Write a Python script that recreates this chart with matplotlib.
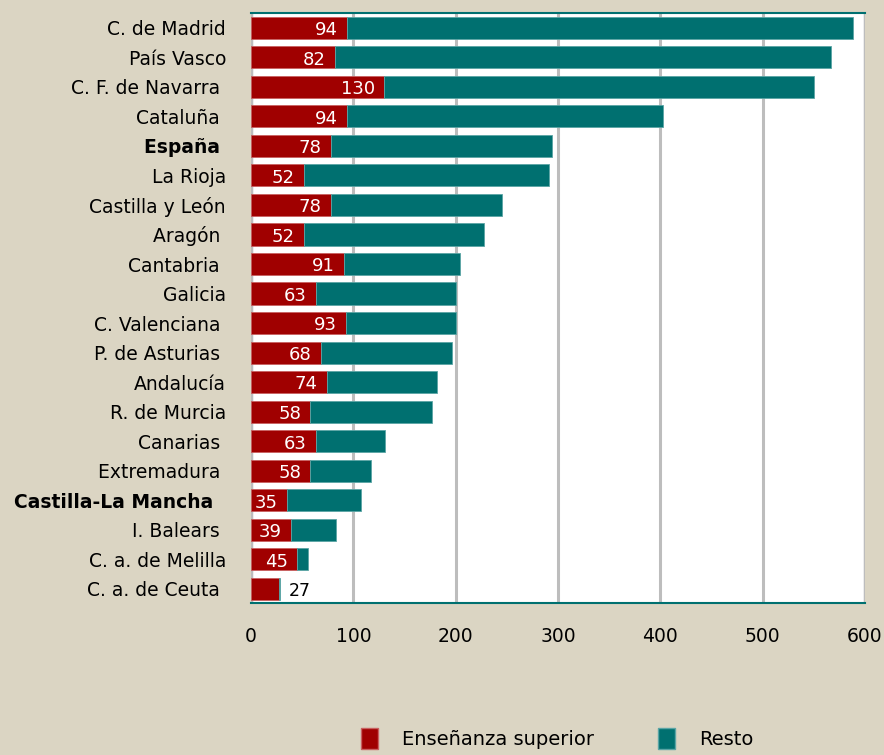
import matplotlib.pyplot as plt
from matplotlib.patches import Patch

regiones = ['C. de Madrid', 'País Vasco', 'C. F. de Navarra ', 'Cataluña ', 'España ',
            'La Rioja', 'Castilla y León', 'Aragón ', 'Cantabria ', 'Galicia',
            'C. Valenciana ', 'P. de Asturias ', 'Andalucía', 'R. de Murcia', 'Canarias ',
            'Extremadura ', 'Castilla-La Mancha  ', 'I. Balears ', 'C. a. de Melilla', 'C. a. de Ceuta ']
superior = [94, 82, 130, 94, 78, 52, 78, 52, 91, 63, 93, 68, 74, 58, 63, 58, 35, 39, 45, 27]
total = [588, 567, 550, 403, 294, 291, 245, 228, 204, 200, 200, 196, 182, 177, 131, 117, 107, 83, 56, 28]
resto = [t - s for t, s in zip(total, superior)]
negrita = ['España ', 'Castilla-La Mancha  ']

ROJO = '#A00000'
VERDE = '#007070'
FONDO = '#DBD5C3'

fig = plt.figure(figsize=(8.84, 7.55), dpi=100, facecolor=FONDO)
ax = fig.add_axes([0.284, 0.2013, 0.6945, 0.7815])
ax.set_facecolor('white')

y = list(range(len(regiones)))
ax.barh(y, superior, height=0.75, color=ROJO, edgecolor='#C86060', linewidth=0.6, zorder=3)
ax.barh(y, resto, left=superior, height=0.75, color=VERDE, edgecolor='#5AA5A5', linewidth=0.6, zorder=3)

# etiquetas de valor
for i, v in enumerate(superior):
    if v < 30:
        ax.text(v + 10, i + 0.08, str(v), color='black', ha='left', va='center', fontsize=12.5, zorder=4)
    else:
        ax.text(v - 9, i + 0.08, str(v), color='white', ha='right', va='center', fontsize=13, zorder=4)

ax.set_ylim(len(regiones) - 0.52, -0.5)
ax.set_xlim(0, 600)
ax.set_xticks([0, 100, 200, 300, 400, 500, 600])
ax.set_yticks(y)
ax.set_yticklabels(regiones, fontsize=13.5)
for lab in ax.get_yticklabels():
    if lab.get_text() in negrita:
        lab.set_fontweight('bold')
ax.tick_params(axis='y', length=0, pad=18)
ax.tick_params(axis='x', length=0, pad=17, labelsize=13.5)
ax.grid(axis='x', color='#BDBDBD', linewidth=2.2, zorder=1)
ax.grid(axis='y', visible=False)
ax.axvline(0, color='#BDBDBD', linewidth=2.5, zorder=2)
ax.axvline(600, color='#BDBDBD', linewidth=2.5, zorder=2)
for s in ['left', 'right']:
    ax.spines[s].set_visible(False)
for s in ['top', 'bottom']:
    ax.spines[s].set_color(VERDE)
    ax.spines[s].set_linewidth(1.5)

handles = [Patch(facecolor=ROJO, edgecolor='#C86060', label='Enseñanza superior'),
           Patch(facecolor=VERDE, edgecolor='#5AA5A5', label='Resto')]
fig.legend(handles=handles, loc='lower center', bbox_to_anchor=(0.63, -0.015), ncol=2,
           frameon=False, fontsize=14, handlelength=0.9, handleheight=1.3,
           columnspacing=3.3, handletextpad=1.2)

fig.savefig('out.png', dpi=100, facecolor=FONDO)
